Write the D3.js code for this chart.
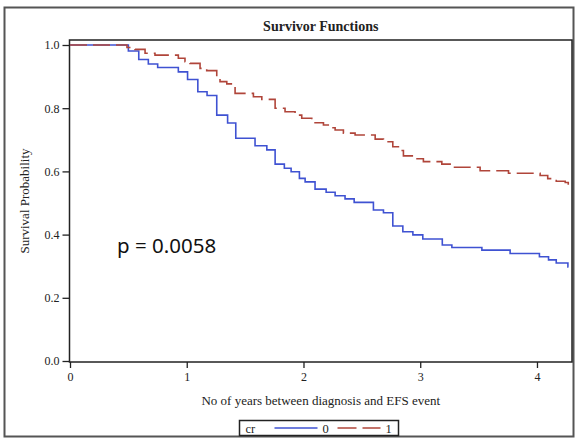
<!DOCTYPE html>
<meta charset="utf-8">
<style>
    body { margin: 0; background: #fff; }
    .lbl { font-family: "Liberation Serif", serif; font-size: 13px; fill: #222; }
</style>
<svg width="576" height="441"></svg>
<script src="https://cdn.jsdelivr.net/npm/d3@7"></script>
<script>

    // group cr = 0 (blue, solid)
    var times0 = [0, 0.50, 0.589, 0.671, 0.751, 0.928, 1.007, 1.095, 1.174, 1.257, 1.350, 1.420,
        1.585, 1.686, 1.757, 1.836, 1.894, 1.965, 2.014, 2.099, 2.194, 2.271, 2.356, 2.434,
        2.599, 2.685, 2.765, 2.851, 2.937, 3.022, 3.189, 3.271, 3.528, 3.770, 4.021, 4.099,
        4.165, 4.265, 4.27];
    var surv0 = [1, 0.981, 0.954, 0.940, 0.929, 0.915, 0.891, 0.852, 0.840, 0.778, 0.753, 0.705,
        0.681, 0.668, 0.623, 0.610, 0.599, 0.578, 0.567, 0.544, 0.534, 0.523, 0.513, 0.502,
        0.478, 0.469, 0.427, 0.409, 0.399, 0.386, 0.367, 0.359, 0.351, 0.340, 0.330, 0.320,
        0.310, 0.298, 0.298];

    // group cr = 1 (red, dashed)
    var times1 = [0, 0.488, 0.557, 0.643, 0.728, 0.928, 0.985, 1.028, 1.114, 1.171, 1.257, 1.285,
        1.343, 1.414, 1.571, 1.643, 1.757, 1.842, 1.928, 1.985, 2.071, 2.171, 2.228, 2.271,
        2.342, 2.442, 2.614, 2.685, 2.765, 2.813, 2.856, 2.942, 3.027, 3.185, 3.256, 3.513,
        3.756, 4.027, 4.092, 4.165, 4.242, 4.268, 4.27];
    var surv1 = [1, 0.992, 0.986, 0.974, 0.968, 0.958, 0.947, 0.942, 0.926, 0.919, 0.900, 0.884,
        0.877, 0.847, 0.836, 0.828, 0.800, 0.789, 0.778, 0.768, 0.754, 0.747, 0.738, 0.731,
        0.721, 0.715, 0.702, 0.694, 0.678, 0.666, 0.649, 0.640, 0.631, 0.623, 0.613, 0.602,
        0.594, 0.587, 0.577, 0.569, 0.565, 0.557, 0.557];

    var xTicks = [0, 1, 2, 3, 4];
    var yTicks = [0, 0.2, 0.4, 0.6, 0.8, 1.0];

    var svg = d3.select("svg");

    var pLeft = 69.5, pRight = 572, pTop = 40, pBottom = 362;

    var x = d3.scaleLinear().domain([0, 4.3]).range([70, pRight]);
    var y = d3.scaleLinear().domain([0, 1]).range([361, 45]);

    // outer frame
    svg.append("rect")
        .attr("x", 4.5).attr("y", 7.5)
        .attr("width", 569).attr("height", 429)
        .attr("fill", "none").attr("stroke", "#555").attr("stroke-width", 2);

    svg.append("text")
        .attr("x", (pLeft + pRight) / 2).attr("y", 31)
        .attr("text-anchor", "middle")
        .style("font-family", "Liberation Serif").style("font-weight", "bold")
        .style("font-size", "14px").style("fill", "#222")
        .text("Survivor Functions");

    // plot frame
    svg.append("rect")
        .attr("x", pLeft).attr("y", pTop)
        .attr("width", pRight - pLeft).attr("height", pBottom - pTop)
        .attr("fill", "none").attr("stroke", "#222").attr("stroke-width", 1.5);

    function styleAxis(g) {
        g.select(".domain").remove();
        g.selectAll("line").style("stroke", "#222").style("stroke-width", "1.3px");
        g.selectAll("text")
            .style("font-family", "Liberation Serif")
            .style("font-size", "12px")
            .style("fill", "#222");
    }

    svg.append("g")
        .attr("transform", "translate(" + pLeft + ",0)")
        .call(d3.axisLeft(y).tickValues(yTicks).tickFormat(d3.format(".1f")).tickSize(7).tickPadding(3))
        .call(styleAxis);

    svg.append("g")
        .attr("transform", "translate(0," + pBottom + ")")
        .call(d3.axisBottom(x).tickValues(xTicks).tickFormat(d3.format("d")).tickSize(6).tickPadding(4))
        .call(styleAxis);

    svg.append("text")
        .attr("class", "lbl")
        .attr("transform", "translate(29," + ((pTop + pBottom) / 2) + ") rotate(-90)")
        .attr("text-anchor", "middle")
        .text("Survival Probability");

    svg.append("text")
        .attr("class", "lbl")
        .attr("x", (pLeft + pRight) / 2).attr("y", 405)
        .attr("text-anchor", "middle")
        .text("No of years between diagnosis and EFS event");

    var line = d3.line()
        .x(function(d) { return x(d[0]); })
        .y(function(d) { return y(d[1]); })
        .curve(d3.curveStepAfter);

    svg.append("path")
        .datum(d3.zip(times0, surv0))
        .attr("d", line)
        .attr("fill", "none")
        .attr("stroke", "#3f52d2")
        .attr("stroke-width", 1.6);

    svg.append("path")
        .datum(d3.zip(times1, surv1))
        .attr("d", line)
        .attr("fill", "none")
        .attr("stroke", "#b0453a")
        .attr("stroke-width", 1.6)
        .attr("stroke-dasharray", "17,6");

    svg.append("text")
        .attr("x", 117).attr("y", 253)
        .style("font-family", "Noto Sans").style("font-size", "20.5px").style("fill", "#111")
        .text("p = 0.0058");

    // legend
    var lg = svg.append("g").attr("transform", "translate(239.5,420.5)");
    lg.append("rect")
        .attr("width", 159).attr("height", 15)
        .attr("fill", "#fff").attr("stroke", "#222").attr("stroke-width", 1.5);
    lg.append("text").attr("class", "lbl").attr("x", 6).attr("y", 12).style("font-size", "12.5px").text("cr");
    lg.append("line")
        .attr("x1", 35).attr("x2", 78).attr("y1", 7.5).attr("y2", 7.5)
        .attr("stroke", "#3f52d2").attr("stroke-width", 1.4);
    lg.append("text").attr("class", "lbl").attr("x", 83).attr("y", 12).style("font-size", "12.5px").text("0");
    lg.append("line")
        .attr("x1", 98).attr("x2", 141).attr("y1", 7.5).attr("y2", 7.5)
        .attr("stroke", "#b0453a").attr("stroke-width", 1.4)
        .attr("stroke-dasharray", "19,6");
    lg.append("text").attr("class", "lbl").attr("x", 146).attr("y", 12).style("font-size", "12.5px").text("1");

</script>
